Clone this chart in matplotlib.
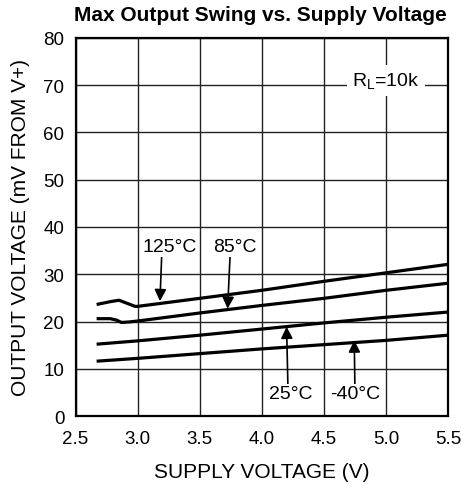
import matplotlib
matplotlib.use("Agg")
import matplotlib.pyplot as plt

plt.rcParams['font.family'] = ['Liberation Sans', 'DejaVu Sans']

# supply voltage (V) and output swing (mV from V+)
v_125 = [2.67, 2.78, 2.85, 2.92, 2.98, 3.0, 3.5, 4.0, 4.5, 5.0, 5.5]
out_125 = [23.6, 24.2, 24.5, 23.8, 23.2, 23.2, 24.9, 26.6, 28.5, 30.3, 32.1]

v_85 = [2.67, 2.78, 2.83, 2.87, 2.93, 3.0, 3.5, 4.0, 4.5, 5.0, 5.5]
out_85 = [20.6, 20.6, 20.3, 19.8, 19.9, 20.1, 21.8, 23.4, 24.9, 26.6, 28.1]

v_25 = [2.67, 3.0, 3.5, 4.0, 4.5, 5.0, 5.5]
out_25 = [15.2, 15.9, 17.1, 18.4, 19.7, 20.9, 22.0]

v_m40 = [2.67, 3.0, 3.5, 4.0, 4.5, 5.0, 5.5]
out_m40 = [11.6, 12.2, 13.2, 14.2, 15.1, 16.0, 17.1]

xticks = [2.5, 3.0, 3.5, 4.0, 4.5, 5.0, 5.5]
yticks = [0, 10, 20, 30, 40, 50, 60, 70, 80]

fig = plt.figure(figsize=(4.61, 4.85), dpi=100)
ax = fig.add_axes([0.1638, 0.1402, 0.808, 0.7794])

for v, out in [(v_125, out_125), (v_85, out_85), (v_25, out_25), (v_m40, out_m40)]:
    ax.plot(v, out, color='black', linewidth=2.3, solid_capstyle='butt', zorder=3)

ax.set_xlim(2.5, 5.5)
ax.set_ylim(0, 80)
ax.set_xticks(xticks)
ax.set_xticklabels(['%.1f' % t for t in xticks])
ax.set_yticks(yticks)
ax.tick_params(length=0, labelsize=13.5)
ax.tick_params(axis='x', pad=10)
ax.tick_params(axis='y', pad=8)
ax.grid(True, color='#222222', linewidth=1.0)
for s in ax.spines.values():
    s.set_linewidth(1.6)

ax.set_xlabel('SUPPLY VOLTAGE (V)', fontsize=15)
ax.xaxis.set_label_coords(0.5, -0.122)
ax.set_ylabel('OUTPUT VOLTAGE (mV FROM V+)', fontsize=15)
ax.yaxis.set_label_coords(-0.123, 0.5)
fig.suptitle('Max Output Swing vs. Supply Voltage', fontsize=15, fontweight='bold',
             x=0.564, y=0.987, va='top')

box = dict(facecolor='white', edgecolor='none', pad=1)
arrow = dict(arrowstyle='-|>,head_length=0.5,head_width=0.25', color='black',
             linewidth=1.2, mutation_scale=14, shrinkA=0, shrinkB=0)

ax.annotate('125°C', xy=(3.18, 24.3), xytext=(3.26, 35.8), ha='center', va='center',
            fontsize=14, bbox=box, arrowprops=dict(arrow, relpos=(0.35, 0.0)))
ax.annotate('85°C', xy=(3.725, 22.7), xytext=(3.78, 35.8), ha='center', va='center',
            fontsize=14, bbox=box, arrowprops=dict(arrow, relpos=(0.4, 0.0)))
ax.annotate('25°C', xy=(4.2, 18.9), xytext=(4.235, 4.7), ha='center', va='center',
            fontsize=14, bbox=box, arrowprops=dict(arrow, relpos=(0.43, 1.0)))
ax.annotate('-40°C', xy=(4.745, 16.0), xytext=(4.75, 4.7), ha='center', va='center',
            fontsize=14, bbox=box, arrowprops=dict(arrow, relpos=(0.5, 1.0)))

ax.text(5.0, 71, r'R$_\mathregular{L}$=10k', ha='center', va='center', fontsize=14,
        bbox=dict(facecolor='white', edgecolor='none', pad=4), zorder=4)

fig.savefig('out.png', dpi=100)
